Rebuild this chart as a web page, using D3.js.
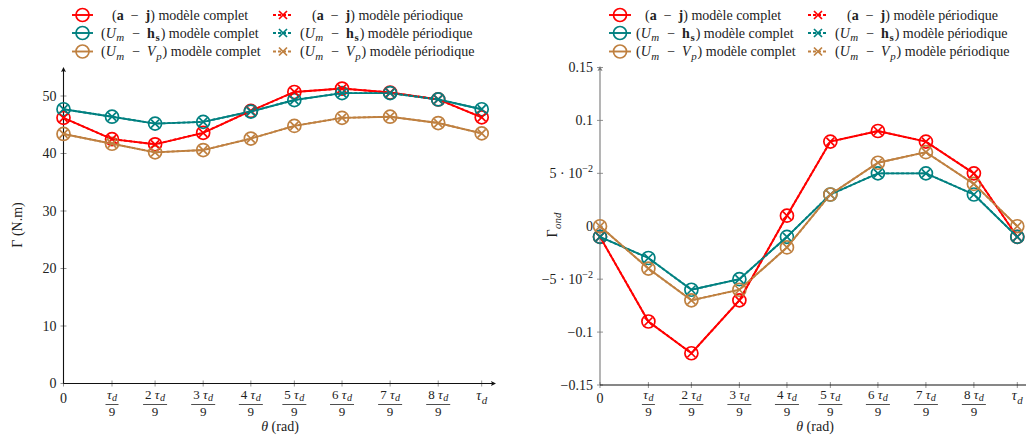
<!DOCTYPE html>
<html><head><meta charset="utf-8">
<script src="https://cdn.jsdelivr.net/npm/d3@7"></script>
<style>
body{margin:0;background:#fff;}
svg text{font-family:"Liberation Serif","DejaVu Serif",serif;fill:#222;}
</style></head>
<body><svg id="c" width="1026" height="441" font-family="Liberation Serif, DejaVu Serif, serif"></svg>
<script>
// ---- data ----
const thetaPos = [0, 0.116, 0.219, 0.334, 0.448, 0.552, 0.666, 0.781, 0.896, 1];
const thetaNum = [0, 1, 2, 3, 4, 5, 6, 7, 8, 9]; // k in k·τd/9
const leftYTicks = [0, 10, 20, 30, 40, 50];
const rightYTicks = [-0.15, -0.1, -0.05, 0, 0.05, 0.1, 0.15];

const gammaComplet_aj = [46.2, 42.5, 41.6, 43.6, 47.4, 50.7, 51.3, 50.6, 49.4, 46.3];
const gammaComplet_hs = [47.7, 46.4, 45.2, 45.5, 47.3, 49.3, 50.5, 50.5, 49.4, 47.7];
const gammaComplet_vp = [43.4, 41.7, 40.2, 40.6, 42.6, 44.8, 46.2, 46.4, 45.3, 43.5];
const gammaPeriod_aj = [46.2, 42.5, 41.6, 43.6, 47.4, 50.7, 51.3, 50.6, 49.4, 46.3];
const gammaPeriod_hs = [47.7, 46.4, 45.2, 45.5, 47.3, 49.3, 50.5, 50.5, 49.4, 47.7];
const gammaPeriod_vp = [43.4, 41.7, 40.2, 40.6, 42.6, 44.8, 46.2, 46.4, 45.3, 43.5];

const ondComplet_aj = [-0.01, -0.09, -0.12, -0.07, 0.01, 0.08, 0.09, 0.08, 0.05, -0.01];
const ondComplet_hs = [-0.01, -0.03, -0.06, -0.05, -0.01, 0.03, 0.05, 0.05, 0.03, -0.01];
const ondComplet_vp = [0, -0.04, -0.07, -0.06, -0.02, 0.03, 0.06, 0.07, 0.04, 0];
const ondPeriod_aj = [-0.01, -0.09, -0.12, -0.07, 0.01, 0.08, 0.09, 0.08, 0.05, -0.01];
const ondPeriod_hs = [-0.01, -0.03, -0.06, -0.05, -0.01, 0.03, 0.05, 0.05, 0.03, -0.01];
const ondPeriod_vp = [0, -0.04, -0.07, -0.06, -0.02, 0.03, 0.06, 0.07, 0.04, 0];

const seriesColors = ["#ff0000", "#008080", "#bf8040"];
// rich text names: [text, style]
const seriesNames = [
  [["(", ""], ["a", "b"], ["\u2002−\u2002", ""], ["j", "b"], [")", ""]],
  [["(", ""], ["U", "i"], ["m", "isub"], ["\u2002−\u2002", ""], ["h", "b"], ["s", "bsub"], [")", ""]],
  [["(", ""], ["U", "i"], ["m", "isub"], ["\u2002−\u2002", ""], ["V", "i"], ["p", "isub"], [")", ""]]
];
const modelLabels = [" modèle complet", " modèle périodique"];

// ---- helpers ----
const svg = d3.select("#c");
const FS = 14;

function rich(sel, segs, fs, subShift) {
  const sh = subShift === undefined ? 0.25 : subShift;
  let shifted = false;
  segs.forEach(([t, s]) => {
    const ts = sel.append("tspan").text(t);
    const isSub = s.endsWith("sub"), isSup = s === "sup";
    if (s.startsWith("b")) ts.attr("font-weight", "bold");
    if (s.startsWith("i")) ts.attr("font-style", "italic");
    if (isSub) { ts.attr("font-size", fs * 0.78).attr("dy", shifted ? 0 : fs * sh).attr("dx", 0.5); shifted = "sub"; }
    else if (isSup) { ts.attr("font-size", fs * 0.72).attr("dy", shifted ? 0 : -fs * 0.4); shifted = "sup"; }
    else if (shifted) { ts.attr("dy", shifted === "sub" ? -fs * sh : fs * 0.4).attr("dx", 1); shifted = false; }
  });
}

function drawMarker(g, x, y, color, kind) {
  if (kind === "circle") {
    g.append("circle").attr("cx", x).attr("cy", y).attr("r", 6.5)
      .attr("fill", "none").attr("stroke", color).attr("stroke-width", 1.7);
  } else {
    const s = 4;
    g.append("path").attr("d", `M${x - s},${y - s}L${x + s},${y + s}M${x - s},${y + s}L${x + s},${y - s}`)
      .attr("stroke", color).attr("stroke-width", 1.7).attr("fill", "none");
  }
}

function arrowHead(g, x, y, dir, color) {
  const p = dir === "up" ? `M${x},${y}L${x - 2.5},${y + 5}L${x},${y + 4}L${x + 2.5},${y + 5}Z`
                         : `M${x},${y}L${x - 5},${y - 2.5}L${x - 4},${y}L${x - 5},${y + 2.5}Z`;
  g.append("path").attr("d", p).attr("fill", color);
}

function xTickLabel(g, x, k) {
  const t = g.append("g").attr("transform", `translate(${x},0)`);
  if (k === 0) {
    t.append("text").attr("y", 403).attr("text-anchor", "middle").attr("font-size", FS).text("0");
    return;
  }
  if (k === 9) {
    const tx = t.append("text").attr("y", 400).attr("text-anchor", "middle").attr("font-size", FS);
    rich(tx, [["τ", "i"], ["d", "isub"]], FS);
    return;
  }
  const num = t.append("text").attr("y", 399).attr("text-anchor", "middle").attr("font-size", 13);
  const segs = k === 1 ? [["τ", "i"], ["d", "isub"]] : [[k + " ", ""], ["τ", "i"], ["d", "isub"]];
  rich(num, segs, 13, 0.18);
  const w = k === 1 ? 13 : 24;
  t.append("line").attr("x1", -w / 2).attr("x2", w / 2).attr("y1", 404.5).attr("y2", 404.5)
    .attr("stroke", "#222").attr("stroke-width", 0.8);
  t.append("text").attr("y", 416).attr("text-anchor", "middle").attr("font-size", 13).text("9");
}

function drawChart(cfg) {
  const g = svg.append("g");
  const x = d3.scaleLinear().domain([0, 1]).range(cfg.xr);
  const y = d3.scaleLinear().domain(cfg.yd).range(cfg.yr);
  const x0 = x(0), yb = y(cfg.yd[0]);

  // x ticks
  thetaPos.forEach((p, i) => {
    g.append("line").attr("x1", x(p)).attr("x2", x(p)).attr("y1", yb - 3).attr("y2", yb + 3)
      .attr("stroke", "#777").attr("stroke-width", 0.8);
    xTickLabel(g, x(p), thetaNum[i]);
  });
  // y ticks
  cfg.yTicks.forEach(v => {
    g.append("line").attr("x1", x0 - 3).attr("x2", x0 + 3).attr("y1", y(v)).attr("y2", y(v))
      .attr("stroke", "#777").attr("stroke-width", 0.8);
    const tx = g.append("text").attr("x", x0 - 7).attr("y", y(v) + 4.5)
      .attr("text-anchor", "end").attr("font-size", FS);
    cfg.yFmt(tx, v);
  });
  // axes
  g.append("line").attr("x1", x0).attr("x2", x0).attr("y1", yb).attr("y2", cfg.yTop + 3)
    .attr("stroke", cfg.yAxisColor).attr("stroke-width", 1.1);
  arrowHead(g, x0, cfg.yTop, "up", cfg.yAxisColor);
  g.append("line").attr("x1", x0).attr("x2", cfg.xEnd - 3).attr("y1", yb).attr("y2", yb)
    .attr("stroke", "#111").attr("stroke-width", 1.1);
  arrowHead(g, cfg.xEnd, yb, "right", "#111");

  // axis titles
  const xt = g.append("text").attr("x", cfg.xTitleX).attr("y", 431).attr("text-anchor", "middle").attr("font-size", FS);
  rich(xt, [["θ", "i"], [" (rad)", ""]], FS);
  const yt = g.append("text").attr("transform", `translate(${cfg.yTitleX},225) rotate(-90)`)
    .attr("text-anchor", "middle").attr("font-size", FS);
  rich(yt, cfg.yTitle, FS);

  // series
  const line = d3.line().x((d, i) => x(thetaPos[i])).y(d => y(d));
  const draw = (vals, ci, dashed) => {
    g.append("path").attr("d", line(vals)).attr("fill", "none").attr("stroke", seriesColors[ci])
      .attr("stroke-width", 1.9).attr("stroke-dasharray", dashed ? "3,2" : null);
    vals.forEach((v, i) => drawMarker(g, x(thetaPos[i]), y(v), seriesColors[ci], dashed ? "cross" : "circle"));
  };
  cfg.complet.forEach((vals, ci) => draw(vals, ci, false));
  cfg.period.forEach((vals, ci) => draw(vals, ci, true));

  // legend
  const rowsY = [15, 33, 51.5];
  seriesNames.forEach((nm, ri) => {
    [0, 1].forEach(col => {
      const L = cfg.leg[col];
      const cy = rowsY[ri];
      g.append("line").attr("x1", L.s0).attr("x2", L.s1).attr("y1", cy).attr("y2", cy)
        .attr("stroke", seriesColors[ri]).attr("stroke-width", 1.9).attr("stroke-dasharray", col ? "3,2" : null);
      drawMarker(g, (L.s0 + L.s1) / 2, cy, seriesColors[ri], col ? "cross" : "circle");
      const tx = g.append("text").attr("x", ri === 0 ? L.t0 : L.t1).attr("y", cy + 4.5).attr("font-size", FS);
      rich(tx, nm.concat([[modelLabels[col], ""]]), FS);
    });
  });
}

drawChart({
  xr: [63.5, 481.7], yd: [0, 55], yr: [383.5, 67.25], yTop: 67, xEnd: 496,
  yTicks: leftYTicks, yAxisColor: "#111",
  yFmt: (tx, v) => tx.text(v),
  xTitleX: 280, yTitleX: 22,
  yTitle: [["Γ (N.m)", ""]],
  complet: [gammaComplet_aj, gammaComplet_hs, gammaComplet_vp],
  period: [gammaPeriod_aj, gammaPeriod_hs, gammaPeriod_vp],
  leg: [{s0: 72, s1: 93, t0: 112, t1: 101}, {s0: 273, s1: 293, t0: 312, t1: 300}]
});

drawChart({
  xr: [600, 1017.3], yd: [-0.15, 0.15], yr: [385, 67.5], yTop: 66, xEnd: 1034,
  yTicks: rightYTicks, yAxisColor: "#777",
  yFmt: (tx, v) => {
    const sgn = v < 0 ? "−" : "";
    const a = Math.abs(v);
    if (Math.abs(a - 0.05) < 1e-9) rich(tx, [[sgn + "5 · 10", ""], ["−2", "sup"]], FS);
    else tx.text(v === 0 ? "0" : sgn + d3.format("")(a));
  },
  xTitleX: 815, yTitleX: 557,
  yTitle: [["Γ", ""], ["ond", "isub"]],
  complet: [ondComplet_aj, ondComplet_hs, ondComplet_vp],
  period: [ondPeriod_aj, ondPeriod_hs, ondPeriod_vp],
  leg: [{s0: 609, s1: 631, t0: 645, t1: 636}, {s0: 808, s1: 828, t0: 847, t1: 835}]
});
</script></body></html>
